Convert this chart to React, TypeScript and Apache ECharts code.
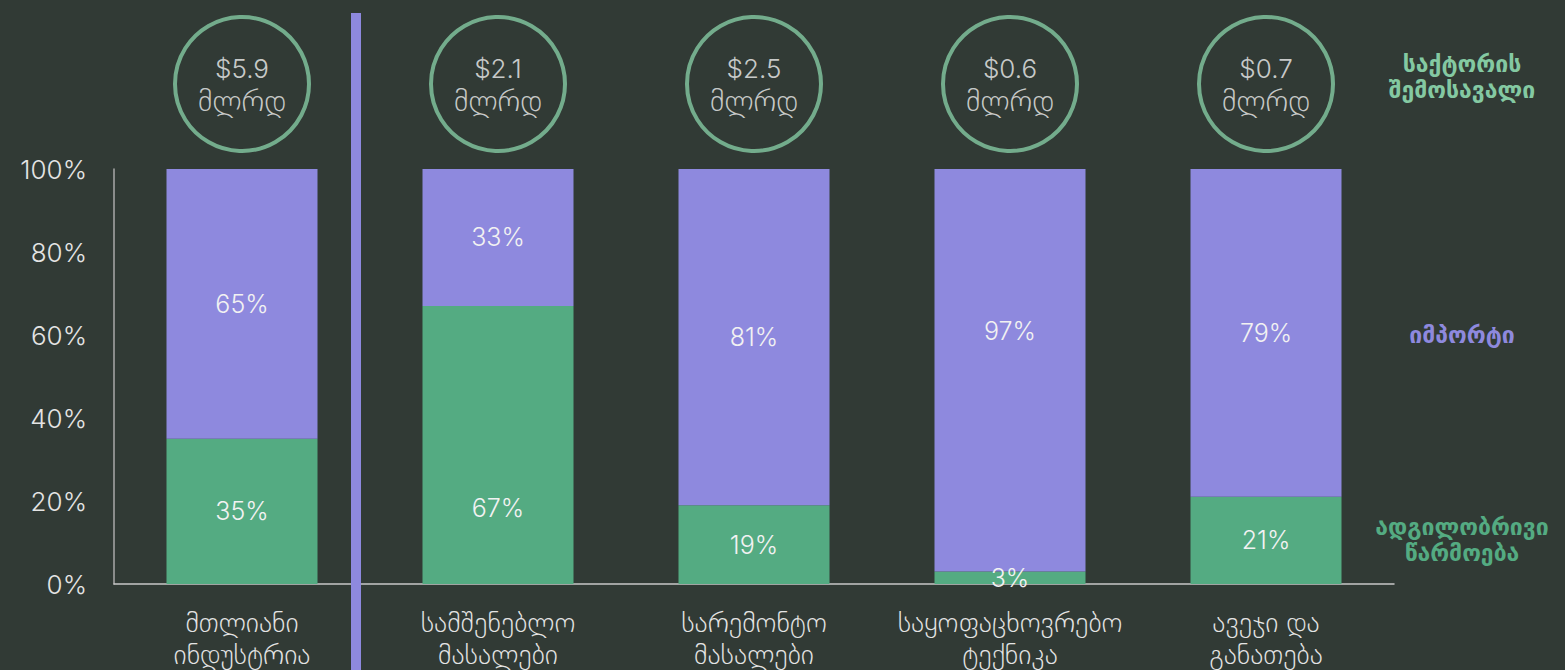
import React, { useEffect, useRef } from "react";
import * as echarts from "echarts";

const categories = [
  "მთლიანი\nინდუსტრია",
  "სამშენებლო\nმასალები",
  "სარემონტო\nმასალები",
  "საყოფაცხოვრებო\nტექნიკა",
  "ავეჯი და\nგანათება",
];
const localShare = [35, 67, 19, 3, 21];
const importShare = [65, 33, 81, 97, 79];
const revenueBn = [5.9, 2.1, 2.5, 0.6, 0.7];
const yTicks = [0, 20, 40, 60, 80, 100];

const BG = "#313a35";
const PURPLE = "#8e89de";
const GREEN = "#54ab82";
const LIGHTGREEN = "#84c9a2";
const TEXT = "#e4e4e4";
const FONT = "Inter, 'DejaVu Sans', sans-serif";

export default function App() {
  const ref = useRef<HTMLDivElement>(null);
  useEffect(() => {
    if (!ref.current) return;
    const chart = echarts.init(ref.current, null, { renderer: "svg" });
    const localNudge = [0, 63, 0, 0, 0];
    const importNudge = [0, 0, 0, -39, 0];
    const barLabel = {
      show: true,
      position: "inside",
      color: "#f2f2f2",
      fontSize: 25,
      fontWeight: 300,
      fontFamily: FONT,
      formatter: "{c}%",
    };
    chart.setOption({
      animation: false,
      backgroundColor: BG,
      textStyle: { fontFamily: FONT },
      grid: [
        { left: 114, right: 171, top: 169, bottom: 86 },
        { left: 114, right: 171, top: 15, height: 138 },
      ],
      xAxis: [
        {
          type: "category",
          gridIndex: 0,
          data: categories,
          axisLine: { show: true, lineStyle: { color: "#c8c8c8", width: 1.5 } },
          axisTick: { show: false },
          axisLabel: {
            interval: 0,
            color: TEXT,
            fontSize: 28,
            lineHeight: 32,
            margin: 22,
            fontFamily: FONT,
            fontWeight: 300,
          },
        },
        {
          type: "category",
          gridIndex: 1,
          data: categories,
          show: false,
        },
      ],
      yAxis: [
        {
          type: "value",
          gridIndex: 0,
          min: 0,
          max: 100,
          interval: 20,
          splitLine: { show: false },
          axisLine: { show: true, lineStyle: { color: "#a8a8a8", width: 1.5 } },
          axisTick: { show: false },
          axisLabel: {
            color: TEXT,
            fontSize: 26,
            fontWeight: 300,
            margin: 27,
            fontFamily: FONT,
            formatter: (v: number) => (yTicks.includes(v) ? `${v}%` : ""),
          },
        },
        { type: "value", gridIndex: 1, min: 0, max: 1, show: false },
      ],
      series: [
        {
          name: "ადგილობრივი წარმოება",
          type: "bar",
          stack: "s",
          barWidth: 151,
          data: localShare.map((v, i) => ({
            value: v,
            label: { offset: [0, localNudge[i]] },
          })),
          itemStyle: { color: GREEN },
          label: barLabel,
        },
        {
          name: "იმპორტი",
          type: "bar",
          stack: "s",
          barWidth: 151,
          data: importShare.map((v, i) => ({
            value: v,
            label: { offset: [0, importNudge[i]] },
          })),
          itemStyle: { color: PURPLE },
          label: barLabel,
        },
        {
          name: "revenue",
          type: "scatter",
          xAxisIndex: 1,
          yAxisIndex: 1,
          symbol: "circle",
          symbolSize: 134,
          data: revenueBn.map(() => 0.5),
          itemStyle: {
            color: "rgba(0,0,0,0)",
            borderColor: LIGHTGREEN,
            borderWidth: 4,
          },
          label: {
            show: true,
            position: "inside",
            color: "#f2f2f2",
            fontFamily: FONT,
            formatter: (p: any) => `{a|$${revenueBn[p.dataIndex]}}\n{b|მლრდ}`,
            rich: {
              a: { fontSize: 26, fontWeight: 300, lineHeight: 31, color: "#f2f2f2", fontFamily: FONT },
              b: { fontSize: 30, fontWeight: 300, lineHeight: 31, color: "#f2f2f2", fontFamily: FONT },
            },
          },
        },
      ],
      graphic: [
        {
          type: "rect",
          shape: { x: 351, y: 13, width: 10, height: 670 },
          style: { fill: PURPLE },
          z: 10,
        },
        {
          type: "text",
          x: 1462,
          y: 77,
          style: {
            text: "საქტორის\nშემოსავალი",
            fill: LIGHTGREEN,
            font: `bold 23px 'DejaVu Sans', sans-serif`,
            lineHeight: 26,
            align: "center",
            verticalAlign: "middle",
          },
        },
        {
          type: "text",
          x: 1462,
          y: 335,
          style: {
            text: "იმპორტი",
            fill: PURPLE,
            font: `bold 23px 'DejaVu Sans', sans-serif`,
            align: "center",
            verticalAlign: "middle",
          },
        },
        {
          type: "text",
          x: 1462,
          y: 540,
          style: {
            text: "ადგილობრივი\nწარმოება",
            fill: GREEN,
            font: `bold 23px 'DejaVu Sans', sans-serif`,
            lineHeight: 26,
            align: "center",
            verticalAlign: "middle",
          },
        },
      ],
    });
    return () => chart.dispose();
  }, []);
  return (
    <div
      ref={ref}
      style={{ position: "fixed", left: 0, top: 0, width: 1565, height: 670 }}
    />
  );
}
